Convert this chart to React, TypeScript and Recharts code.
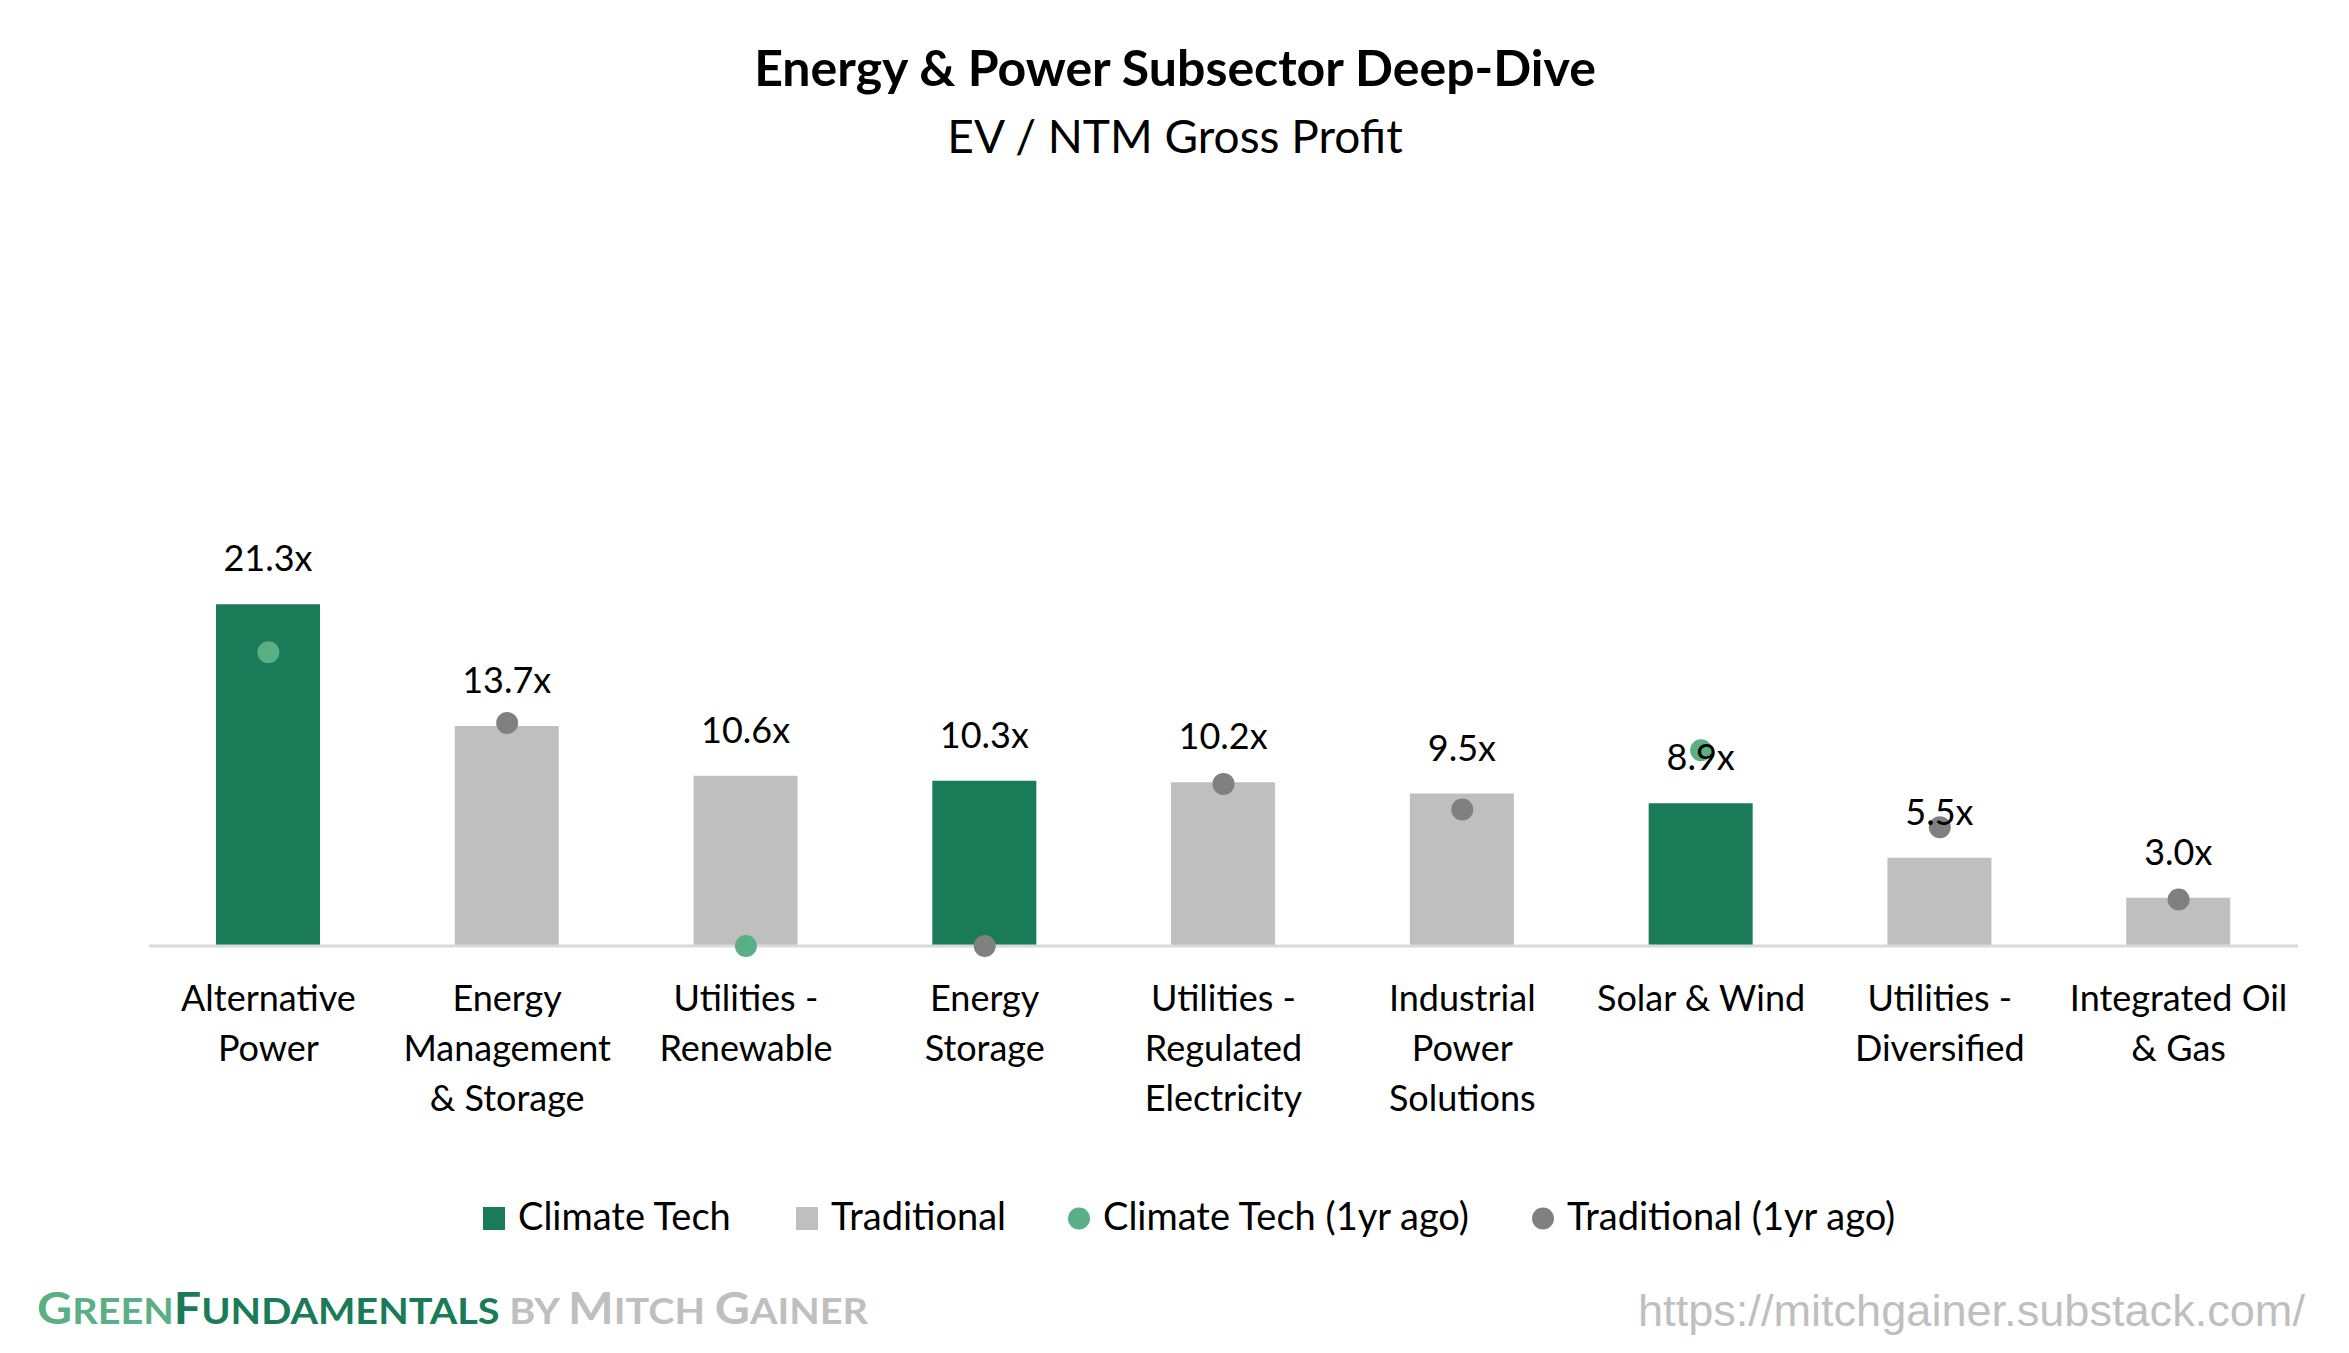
import React from 'react';
import { ComposedChart, Bar, Line, XAxis, YAxis, LabelList } from 'recharts';

const categories = [
  'Alternative Power',
  'Energy Management & Storage',
  'Utilities - Renewable',
  'Energy Storage',
  'Utilities - Regulated Electricity',
  'Industrial Power Solutions',
  'Solar & Wind',
  'Utilities - Diversified',
  'Integrated Oil & Gas',
];
const categoryLines = [
  ['Alternative', 'Power'],
  ['Energy', 'Management', '& Storage'],
  ['Utilities -', 'Renewable'],
  ['Energy', 'Storage'],
  ['Utilities -', 'Regulated', 'Electricity'],
  ['Industrial', 'Power', 'Solutions'],
  ['Solar & Wind'],
  ['Utilities -', 'Diversified'],
  ['Integrated Oil', '& Gas'],
];
const climateTech = [21.3, null, null, 10.3, null, null, 8.9, null, null];
const traditional = [null, 13.7, 10.6, null, 10.2, 9.5, null, 5.5, 3.0];
const climateTech1yrAgo = [18.3, null, 0, null, null, null, 12.2, null, null];
const traditional1yrAgo = [null, 13.9, null, 0, 10.1, 8.5, null, 7.4, 2.9];

const legendNames = ['Climate Tech', 'Traditional', 'Climate Tech (1yr ago)', 'Traditional (1yr ago)'];

const GREEN = '#1a7b59';
const GRAY = '#bfbfbf';
const LIGHT_GREEN = '#5baf84';
const DOT_GRAY = '#808080';
const FONT = 'Lato, "Noto Sans", sans-serif';

const data = categories.map((c, i) => ({
  name: c,
  climate: climateTech[i],
  traditional: traditional[i],
  climateAgo: climateTech1yrAgo[i],
  traditionalAgo: traditional1yrAgo[i],
}));

const fmt = (v: any) => (v == null ? '' : `${Number(v).toFixed(1)}x`);

const CategoryTick = (props: any) => {
  const { x, y, payload } = props;
  const idx = categories.indexOf(payload.value);
  const lines = idx >= 0 ? categoryLines[idx] : [payload.value];
  return (
    <text x={x} y={y + 65} textAnchor="middle" fontFamily={FONT} fontSize={36} fill="#000">
      {lines.map((l: string, i: number) => (
        <tspan key={i} x={x} dy={i === 0 ? 0 : 50}>
          {l}
        </tspan>
      ))}
    </text>
  );
};

const legendMarkerX = [483, 796, 1068, 1532];
const legendColors = [GREEN, GRAY, LIGHT_GREEN, DOT_GRAY];

export default function App() {
  return (
    <div style={{ position: 'absolute', left: 0, top: 0, width: 2349, height: 1353, background: '#fff', overflow: 'hidden' }}>
      <ComposedChart
        width={2349}
        height={1353}
        data={data}
        margin={{ top: 304, right: 51, bottom: 0, left: 149 }}
        barGap={-104}
      >
        <XAxis
          dataKey="name"
          height={407}
          interval={0}
          tickLine={false}
          tickSize={0}
          tickMargin={0}
          axisLine={{ stroke: '#d9d9d9', strokeWidth: 3 }}
          tick={<CategoryTick />}
        />
        <YAxis hide domain={[0, 40]} />
        <Bar dataKey="climate" fill={GREEN} barSize={104} isAnimationActive={false}>
          <LabelList dataKey="climate" position="top" offset={33} formatter={fmt} fontFamily={FONT} fontSize={36} fill="#000" />
        </Bar>
        <Bar dataKey="traditional" fill={GRAY} barSize={104} isAnimationActive={false}>
          <LabelList dataKey="traditional" position="top" offset={33} formatter={fmt} fontFamily={FONT} fontSize={36} fill="#000" />
        </Bar>
        <Line
          dataKey="climateAgo"
          stroke="none"
          dot={{ r: 11, fill: LIGHT_GREEN, stroke: 'none', strokeWidth: 0 }}
          activeDot={false}
          isAnimationActive={false}
        />
        <Line
          dataKey="traditionalAgo"
          stroke="none"
          dot={{ r: 11, fill: DOT_GRAY, stroke: 'none', strokeWidth: 0 }}
          activeDot={false}
          isAnimationActive={false}
        />
      </ComposedChart>
      <svg width={2349} height={1353} style={{ position: 'absolute', left: 0, top: 0, pointerEvents: 'none' }}>
        <text x={1175} y={86} textAnchor="middle" fontFamily={FONT} fontWeight={700} fontSize={50} fill="#000">
          Energy &amp; Power Subsector Deep-Dive
        </text>
        <text x={1175} y={153} textAnchor="middle" fontFamily={FONT} fontSize={46} fill="#000">
          EV / NTM Gross Profit
        </text>
        {legendNames.map((n, i) => (
          <g key={n}>
            {i < 2 ? (
              <rect x={legendMarkerX[i]} y={1207} width={22} height={23} fill={legendColors[i]} />
            ) : (
              <circle cx={legendMarkerX[i] + 11} cy={1218.5} r={11} fill={legendColors[i]} />
            )}
            <text x={legendMarkerX[i] + 35} y={1230} fontFamily={FONT} fontSize={38} fill="#000">
              {n}
            </text>
          </g>
        ))}
        <text x={37} y={1324} fontFamily={FONT} fontWeight={700} textLength={831} lengthAdjust="spacingAndGlyphs">
          <tspan fill={LIGHT_GREEN} fontSize={44}>G</tspan>
          <tspan fill={LIGHT_GREEN} fontSize={36}>REEN</tspan>
          <tspan fill={GREEN} fontSize={44}>F</tspan>
          <tspan fill={GREEN} fontSize={36}>UNDAMENTALS</tspan>
          <tspan fill={GRAY} fontSize={36}> BY </tspan>
          <tspan fill={GRAY} fontSize={44}>M</tspan>
          <tspan fill={GRAY} fontSize={36}>ITCH </tspan>
          <tspan fill={GRAY} fontSize={44}>G</tspan>
          <tspan fill={GRAY} fontSize={36}>AINER</tspan>
        </text>
        <text x={1638} y={1326} fontFamily='"Liberation Sans", Arial, sans-serif' fontSize={44} fill={GRAY} textLength={667} lengthAdjust="spacingAndGlyphs">
          https://mitchgainer.substack.com/
        </text>
      </svg>
    </div>
  );
}
